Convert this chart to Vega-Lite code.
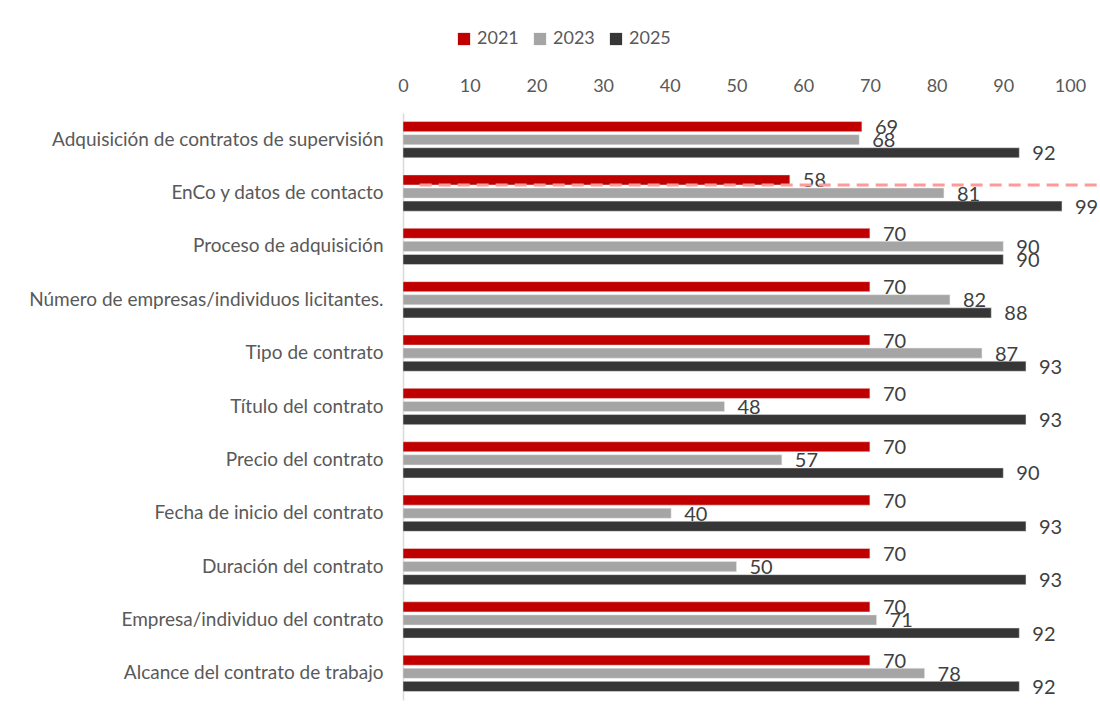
{
  "$schema": "https://vega.github.io/schema/vega-lite/v6.json",
  "autosize": "none",
  "width": 667,
  "height": 587,
  "padding": {"left": 403, "top": 113, "right": 30, "bottom": 23},
  "background": "white",
  "config": {
    "font": "Lato",
    "view": {"stroke": null}
  },
  "datasets": {
    "bars": [
      {"cat": "Adquisición de contratos de supervisión", "year": "2021", "value": 68.8},
      {"cat": "Adquisición de contratos de supervisión", "year": "2023", "value": 68.4},
      {"cat": "Adquisición de contratos de supervisión", "year": "2025", "value": 92.4},
      {"cat": "EnCo y datos de contacto", "year": "2021", "value": 58},
      {"cat": "EnCo y datos de contacto", "year": "2023", "value": 81.1},
      {"cat": "EnCo y datos de contacto", "year": "2025", "value": 98.8},
      {"cat": "Proceso de adquisición", "year": "2021", "value": 70},
      {"cat": "Proceso de adquisición", "year": "2023", "value": 90},
      {"cat": "Proceso de adquisición", "year": "2025", "value": 90},
      {"cat": "Número de empresas/individuos licitantes.", "year": "2021", "value": 70},
      {"cat": "Número de empresas/individuos licitantes.", "year": "2023", "value": 82},
      {"cat": "Número de empresas/individuos licitantes.", "year": "2025", "value": 88.2},
      {"cat": "Tipo de contrato", "year": "2021", "value": 70},
      {"cat": "Tipo de contrato", "year": "2023", "value": 86.8},
      {"cat": "Tipo de contrato", "year": "2025", "value": 93.4},
      {"cat": "Título del contrato", "year": "2021", "value": 70},
      {"cat": "Título del contrato", "year": "2023", "value": 48.2},
      {"cat": "Título del contrato", "year": "2025", "value": 93.4},
      {"cat": "Precio del contrato", "year": "2021", "value": 70},
      {"cat": "Precio del contrato", "year": "2023", "value": 56.8},
      {"cat": "Precio del contrato", "year": "2025", "value": 90},
      {"cat": "Fecha de inicio del contrato", "year": "2021", "value": 70},
      {"cat": "Fecha de inicio del contrato", "year": "2023", "value": 40.2},
      {"cat": "Fecha de inicio del contrato", "year": "2025", "value": 93.4},
      {"cat": "Duración del contrato", "year": "2021", "value": 70},
      {"cat": "Duración del contrato", "year": "2023", "value": 50},
      {"cat": "Duración del contrato", "year": "2025", "value": 93.4},
      {"cat": "Empresa/individuo del contrato", "year": "2021", "value": 70},
      {"cat": "Empresa/individuo del contrato", "year": "2023", "value": 71},
      {"cat": "Empresa/individuo del contrato", "year": "2025", "value": 92.4},
      {"cat": "Alcance del contrato de trabajo", "year": "2021", "value": 70},
      {"cat": "Alcance del contrato de trabajo", "year": "2023", "value": 78.2},
      {"cat": "Alcance del contrato de trabajo", "year": "2025", "value": 92.4}
    ],
    "dash": [
      {"cat": "EnCo y datos de contacto", "start": 2.5, "end": 105}
    ]
  },
  "encoding": {
    "y": {
      "field": "cat",
      "type": "nominal",
      "sort": null,
      "title": null,
      "scale": {"paddingInner": 0.32, "paddingOuter": 0.16},
      "axis": {
        "ticks": false,
        "domain": true,
        "domainColor": "#D9D9D9",
        "domainWidth": 1.5,
        "labelFontSize": 19,
        "labelColor": "#595959",
        "labelPadding": 20,
        "labelLimit": 420
      }
    }
  },
  "layer": [
    {
      "data": {"name": "bars"},
      "mark": {"type": "bar", "stroke": "#e8e8e8", "strokeWidth": 0.5},
      "encoding": {
        "x": {
          "field": "value",
          "type": "quantitative",
          "scale": {"domain": [0, 100], "nice": false},
          "title": null,
          "axis": {
            "orient": "top",
            "values": [0, 10, 20, 30, 40, 50, 60, 70, 80, 90, 100],
            "grid": false,
            "ticks": false,
            "domain": false,
            "labelFlush": false,
            "labelFontSize": 18,
            "labelColor": "#595959",
            "labelPadding": 18
          }
        },
        "yOffset": {
          "field": "year",
          "type": "nominal",
          "scale": {"paddingInner": 0.23, "paddingOuter": 0}
        },
        "color": {
          "field": "year",
          "type": "nominal",
          "title": null,
          "scale": {"domain": ["2021", "2023", "2025"], "range": ["#C00000", "#A5A5A5", "#363636"]},
          "legend": {
            "orient": "none",
            "direction": "horizontal",
            "legendX": 52,
            "legendY": -83,
            "symbolType": "square",
            "symbolSize": 150,
            "symbolStrokeWidth": 0,
            "labelFontSize": 18,
            "labelColor": "#595959",
            "labelOffset": 4,
            "columnPadding": 12
          }
        }
      }
    },
    {
      "data": {"name": "bars"},
      "mark": {"type": "text", "align": "left", "baseline": "middle", "dx": 13, "dy": 1.5, "fontSize": 20, "color": "#404040"},
      "encoding": {
        "x": {"field": "value", "type": "quantitative"},
        "yOffset": {"field": "year", "type": "nominal"},
        "text": {"field": "value", "type": "quantitative", "format": ".0f"}
      }
    },
    {
      "data": {"name": "dash"},
      "mark": {"type": "rule", "color": "#FF9999", "strokeWidth": 3, "strokeDash": [12, 7]},
      "encoding": {
        "y": {"field": "cat", "type": "nominal", "bandPosition": 0.28},
        "x": {"field": "start", "type": "quantitative"},
        "x2": {"field": "end"}
      }
    }
  ]
}
